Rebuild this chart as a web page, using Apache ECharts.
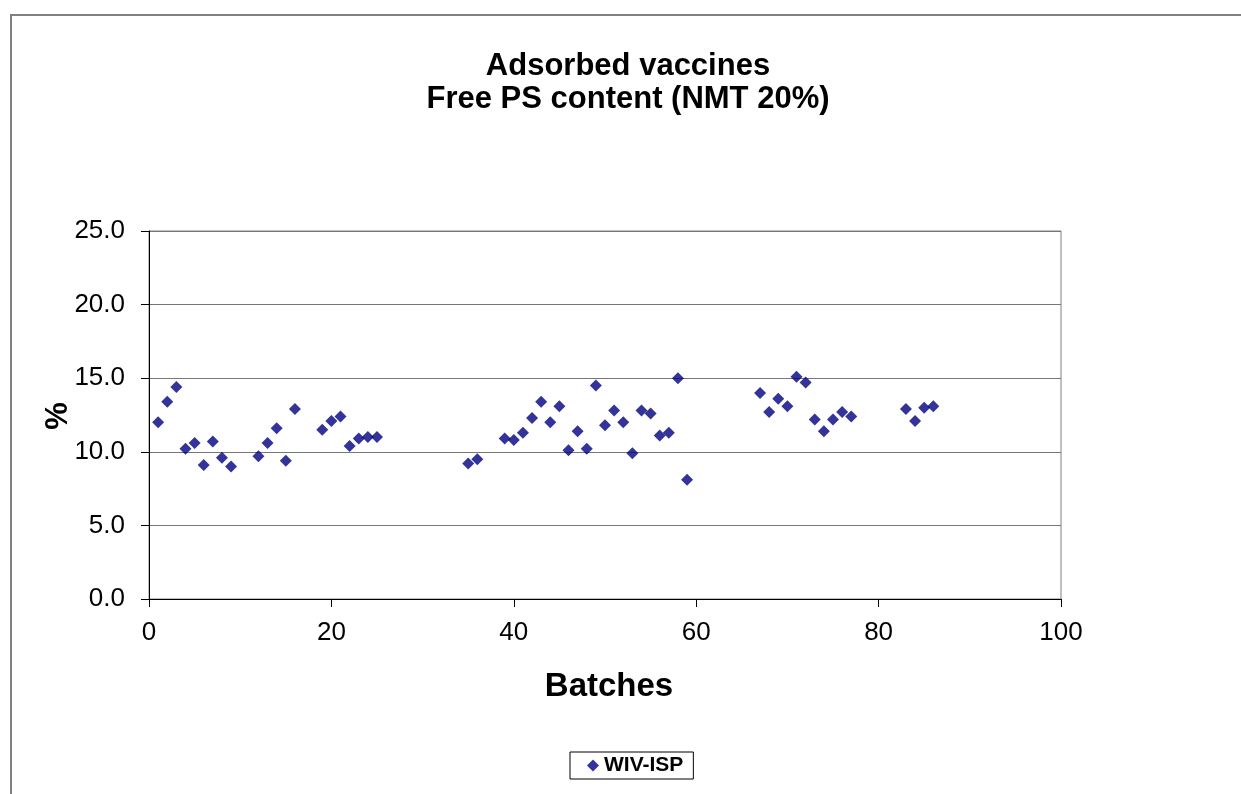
<!DOCTYPE html>
<html>
<head>
<meta charset="utf-8">
<script src="https://cdn.jsdelivr.net/npm/echarts@6/dist/echarts.min.js"></script>
<style>
  html, body { margin: 0; padding: 0; background: #fff; }
  #chart { width: 1241px; height: 794px; }
</style>
</head>
<body>
<div id="chart"></div>
<script>
// Free polysaccharide content per batch (%), WIV-ISP
const batches = [1, 2, 3, 4, 5, 6, 7, 8, 9, 12, 13, 14, 15, 16, 19, 20, 21, 22, 23, 24, 25,
  35, 36, 39, 40, 41, 42, 43, 44, 45, 46, 47, 48, 49, 50, 51, 52, 53, 54, 55, 56, 57, 58, 59,
  67, 68, 69, 70, 71, 72, 73, 74, 75, 76, 77, 83, 84, 85, 86];
const freePs = [12.0, 13.4, 14.4, 10.2, 10.6, 9.1, 10.7, 9.6, 9.0, 9.7, 10.6, 11.6, 9.4, 12.9,
  11.5, 12.1, 12.4, 10.4, 10.9, 11.0, 11.0,
  9.2, 9.5, 10.9, 10.8, 11.3, 12.3, 13.4, 12.0, 13.1, 10.1, 11.4, 10.2, 14.5, 11.8, 12.8, 12.0,
  9.9, 12.8, 12.6, 11.1, 11.3, 15.0, 8.1,
  14.0, 12.7, 13.6, 13.1, 15.1, 14.7, 12.2, 11.4, 12.2, 12.7, 12.4, 12.9, 12.1, 13.0, 13.1];
const seriesName = 'WIV-ISP';
const titleLines = ['Adsorbed vaccines', 'Free PS content (NMT 20%)'];
const xTitle = 'Batches';
const yTitle = '%';

const FONT = '"Liberation Sans", Arial, sans-serif';
const points = batches.map((b, i) => [b, freePs[i]]);

const chart = echarts.init(document.getElementById('chart'), null, { renderer: 'canvas' });
chart.setOption({
  animation: false,
  backgroundColor: '#fff',
  textStyle: { fontFamily: FONT },
  title: {
    text: titleLines.join('\n'),
    left: 628,
    top: 50,
    textAlign: 'center',
    padding: 0,
    textStyle: { fontFamily: FONT, fontSize: 31, fontWeight: 'bold', color: '#000', lineHeight: 33 }
  },
  graphic: [
    {
      type: 'rect', silent: true, z: -1,
      shape: { x: 11, y: 15, width: 1400, height: 1000 },
      style: { fill: 'none', stroke: '#808080', lineWidth: 2 }
    },
    {
      type: 'text', x: 609, y: 687,
      style: { text: xTitle, font: 'bold 33px ' + FONT, fill: '#000', align: 'center', verticalAlign: 'middle' }
    },
    {
      type: 'text', x: 58, y: 416, rotation: Math.PI / 2,
      style: { text: yTitle, font: 'bold 31px ' + FONT, fill: '#000', align: 'center', verticalAlign: 'middle' }
    }
  ],
  legend: {
    left: 570,
    top: 752,
    orient: 'horizontal',
    data: [{ name: seriesName, icon: 'diamond' }],
    itemWidth: 12,
    itemHeight: 12,
    itemGap: 5,
    padding: [3, 10, 3, 17],
    borderColor: '#000',
    borderWidth: 1,
    textStyle: { fontFamily: FONT, fontSize: 21, fontWeight: 'bold', color: '#000', padding: [0, 0, 0, 0] }
  },
  grid: {
    left: 149, right: 180, top: 231, bottom: 195,
    show: true, borderColor: '#808080', borderWidth: 1, backgroundColor: 'transparent'
  },
  xAxis: {
    type: 'value', min: 0, max: 100, interval: 20,
    axisLine: { show: true, onZero: false, lineStyle: { color: '#000', width: 1 } },
    axisTick: { show: true, length: 8, lineStyle: { color: '#000' } },
    axisLabel: { fontFamily: FONT, fontSize: 26, color: '#000', margin: 21 },
    splitLine: { show: false }
  },
  yAxis: {
    type: 'value', min: 0, max: 25, interval: 5,
    axisLine: { show: true, lineStyle: { color: '#000', width: 1 } },
    axisTick: { show: true, length: 8, lineStyle: { color: '#000' } },
    axisLabel: { fontFamily: FONT, fontSize: 26, color: '#000', margin: 24, formatter: v => v.toFixed(1) },
    splitLine: { show: true, lineStyle: { color: '#777', width: 1 } }
  },
  series: [{
    name: seriesName,
    type: 'scatter',
    symbol: 'diamond',
    symbolSize: 12,
    itemStyle: { color: '#000080' },
    data: points
  }]
});
</script>
</body>
</html>
